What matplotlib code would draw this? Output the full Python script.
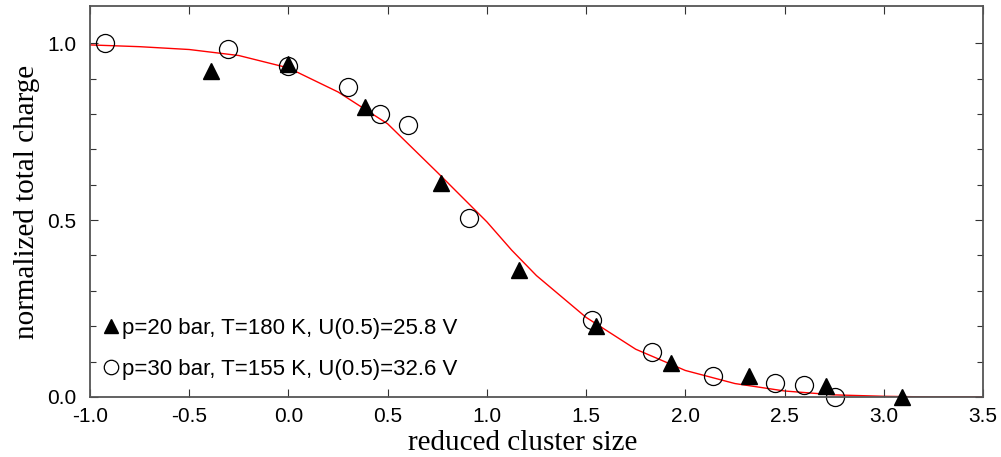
import matplotlib
matplotlib.use("Agg")
import matplotlib.pyplot as plt

# p=20 bar data (filled triangles)
tri_x = [-0.39, 0.0, 0.384, 0.77, 1.16, 1.55, 1.93, 2.32, 2.71, 3.09]
tri_y = [0.92, 0.94, 0.82, 0.604, 0.358, 0.20, 0.095, 0.06, 0.032, 0.0]

# p=30 bar data (open circles)
circ_x = [-0.925, -0.305, 0.0, 0.30, 0.46, 0.605, 0.91, 1.53, 1.83, 2.14, 2.45, 2.60, 2.755]
circ_y = [1.0, 0.983, 0.935, 0.876, 0.80, 0.768, 0.505, 0.217, 0.127, 0.059, 0.04, 0.034, 0.0]

# fitted curve
fit_x = [-1.0, -0.75, -0.5, -0.25, 0.0, 0.25, 0.5, 0.75, 0.875, 1.0, 1.125, 1.25, 1.5, 1.75,
         2.0, 2.25, 2.5, 2.75, 3.0, 3.25, 3.5]
fit_y = [0.995, 0.99, 0.982, 0.965, 0.93, 0.862, 0.772, 0.635, 0.565, 0.495, 0.415, 0.343, 0.225, 0.135,
         0.075, 0.038, 0.017, 0.006, 0.002, 0.0, 0.0]

labels = ["p=20 bar, T=180 K, U(0.5)=25.8 V", "p=30 bar, T=155 K, U(0.5)=32.6 V"]

sans = "Liberation Sans"
serif = "Liberation Serif"

fig = plt.figure(figsize=(10.01, 4.57), dpi=100)
ax = fig.add_axes([0.0899, 0.1313, 0.8921, 0.8556])

ax.plot(fit_x, fit_y, color="red", lw=1.0, zorder=1)
ax.plot(tri_x, tri_y, ls="none", marker="^", ms=12, color="black", label=labels[0],
        zorder=3, clip_on=False)
ax.plot(circ_x, circ_y, ls="none", marker="o", ms=13, mfc="none", mec="black", mew=0.9,
        label=labels[1], zorder=2, clip_on=False)

ax.set_xlim(-1.0, 3.5)
ax.set_ylim(0.0, 1.105)
ax.set_xticks([-1.0, -0.5, 0.0, 0.5, 1.0, 1.5, 2.0, 2.5, 3.0, 3.5])
ax.set_yticks([0.0, 0.5, 1.0])
ax.set_yticks([i / 10 for i in range(11)], minor=True)
ax.set_xticklabels(["%.1f" % v for v in ax.get_xticks()], fontname=sans, fontsize=15)
ax.set_yticklabels(["%.1f" % v for v in ax.get_yticks()], fontname=sans, fontsize=15)
ax.tick_params(which="both", direction="in", color="#333333", width=0.8,
               top=True, right=True)
ax.tick_params(which="major", length=6)
ax.tick_params(which="minor", length=4)
ax.tick_params(axis="x", pad=7)
ax.tick_params(axis="y", pad=10)
for s in ax.spines.values():
    s.set_color("#555555")
    s.set_linewidth(1.3)

ax.set_xlabel("reduced cluster size", fontname=serif, fontsize=21, labelpad=1)
ax.set_ylabel("normalized total charge", fontname=serif, fontsize=21, labelpad=5)
ax.xaxis.set_label_coords(0.485, -0.085)

leg = ax.legend(loc="lower left", bbox_to_anchor=(0.0, 0.01), frameon=False,
                prop={"family": sans, "size": 16}, handlelength=0.7, handletextpad=0.15,
                labelspacing=0.9, markerscale=0.8, borderaxespad=0.2)

fig.savefig("out.png", dpi=100)
